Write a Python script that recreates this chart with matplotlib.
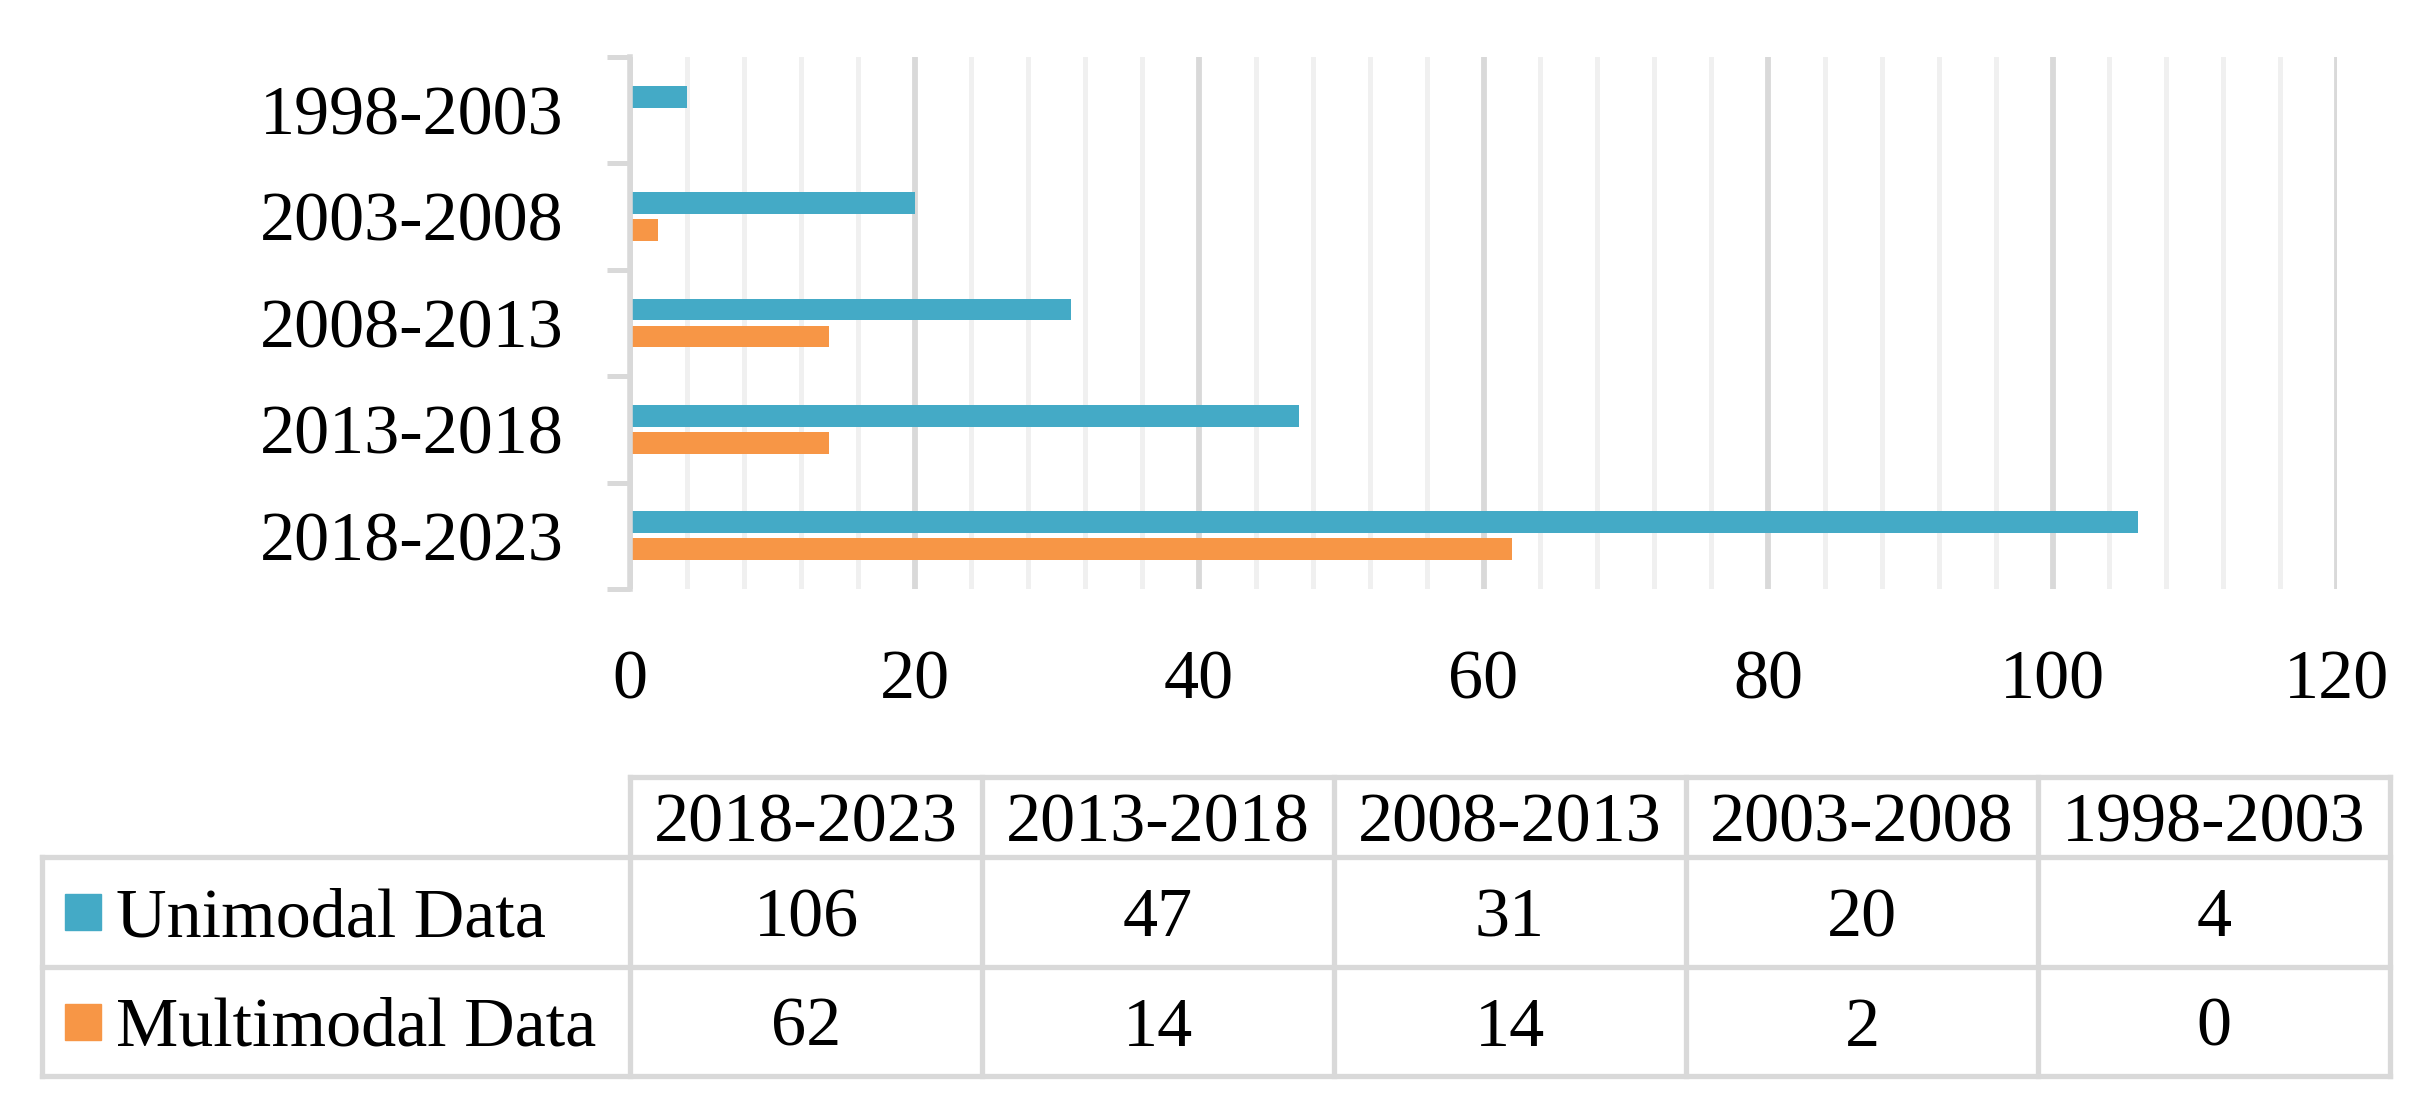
import matplotlib; matplotlib.use("Agg")
import matplotlib.pyplot as plt
from matplotlib.patches import Rectangle
from matplotlib.ticker import MultipleLocator, FixedLocator, NullFormatter

plt.rcParams["font.family"] = ["Liberation Serif", "DejaVu Serif"]

periods = ["2018-2023", "2013-2018", "2008-2013", "2003-2008", "1998-2003"]
unimodal = [106, 47, 31, 20, 4]
multimodal = [62, 14, 14, 2, 0]
series_names = ["Unimodal Data", "Multimodal Data"]

BLUE = "#44AAC6"
ORANGE = "#F79646"
GRID = "#D9D9D9"
MINOR = "#F0F0F0"
FS = 50.5

W, H = 2421, 1110
fig = plt.figure(figsize=(W / 100, H / 100), dpi=100)

# ---- bar chart ----
ax = fig.add_axes([630 / W, 1 - 589 / H, (2337 - 630) / W, (589 - 57) / H])
ypos = list(range(len(periods)))
bh, off = 0.205, 0.127
ax.barh([y + off for y in ypos], unimodal, height=bh, color=BLUE, zorder=3)
ax.barh([y - off for y in ypos], multimodal, height=bh, color=ORANGE, zorder=3)
ax.set_xlim(0, 120)
ax.set_ylim(-0.5, len(periods) - 0.5)
ax.xaxis.set_major_locator(MultipleLocator(20))
ax.xaxis.set_minor_locator(MultipleLocator(4))
ax.grid(True, which="major", axis="x", color=GRID, lw=4.2, zorder=1)
ax.grid(True, which="minor", axis="x", color=MINOR, lw=3.6, zorder=0)
ax.set_axisbelow(True)
ax.tick_params(axis="x", which="both", length=0, pad=44, labelsize=FS)
ax.set_yticks(ypos)
ax.set_yticklabels(periods)
ax.yaxis.set_minor_locator(FixedLocator([y - 0.5 for y in ypos] + [ypos[-1] + 0.5]))
ax.yaxis.set_minor_formatter(NullFormatter())
ax.tick_params(axis="y", which="major", length=0, pad=48, labelsize=FS)
ax.tick_params(axis="y", which="minor", length=16.6, width=3.6, color=GRID)
for sp in ["top", "right", "bottom"]:
    ax.spines[sp].set_visible(False)
ax.spines["left"].set_color(GRID)
ax.spines["left"].set_linewidth(4.0)
ax.spines["left"].set_zorder(4)

# ---- data table (pixel coordinates) ----
tax = fig.add_axes([0, 0, 1, 1], zorder=-1)
tax.set_xlim(0, W)
tax.set_ylim(H, 0)
tax.axis("off")
col_edges = [630 + k * 352 for k in range(len(periods) + 1)]
row_edges = [777, 857, 967, 1076]
left = 42
lk = dict(color=GRID, lw=3.8, solid_capstyle="projecting")
tax.plot([col_edges[0], col_edges[-1]], [row_edges[0]] * 2, **lk)
for y in row_edges[1:]:
    tax.plot([left, col_edges[-1]], [y, y], **lk)
tax.plot([left, left], [row_edges[1], row_edges[-1]], **lk)
for x in col_edges:
    tax.plot([x, x], [row_edges[0], row_edges[-1]], **lk)

for j, p in enumerate(periods):
    cx = (col_edges[j] + col_edges[j + 1]) / 2
    tax.text(cx, (row_edges[0] + row_edges[1]) / 2, p, fontsize=FS,
             ha="center", va="center_baseline")
for r, (name, vals, col) in enumerate(zip(series_names, [unimodal, multimodal],
                                          [BLUE, ORANGE])):
    cy = (row_edges[r + 1] + row_edges[r + 2]) / 2
    tax.add_patch(Rectangle((65, cy - 18), 36, 36, color=col))
    tax.text(116, cy, name, fontsize=FS, ha="left", va="center_baseline")
    for j, v in enumerate(vals):
        cx = (col_edges[j] + col_edges[j + 1]) / 2
        tax.text(cx, cy, str(v), fontsize=FS, ha="center", va="center_baseline")

fig.savefig("out.png", dpi=100, facecolor="white")
